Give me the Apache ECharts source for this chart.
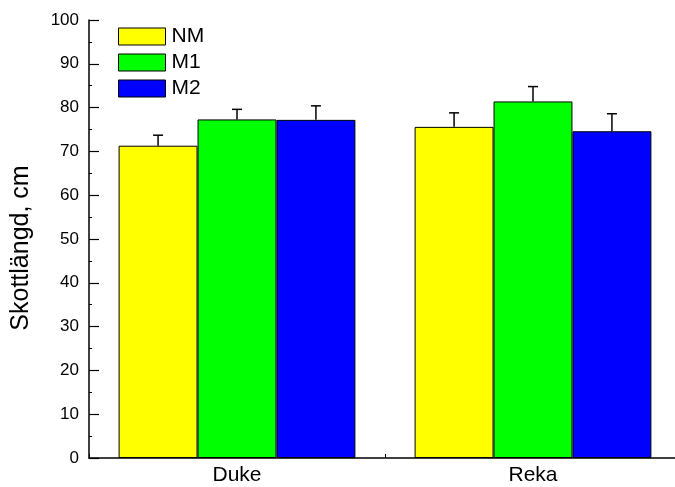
<!DOCTYPE html>
<html>
<head>
<meta charset="utf-8">
<script src="https://cdn.jsdelivr.net/npm/echarts@6/dist/echarts.min.js"></script>
<style>
  html, body { margin: 0; padding: 0; background: #fff; overflow: hidden; }
  #chart { width: 681px; height: 487px; }
</style>
</head>
<body>
<div id="chart"></div>
<script>
const categories = ['Duke', 'Reka']
const seriesNames = ['NM', 'M1', 'M2']
const nmValues = [71.3, 75.6]
const m1Values = [77.3, 81.4]
const m2Values = [77.2, 74.6]
const nmErrors = [2.4, 3.2]
const m1Errors = [2.3, 3.4]
const m2Errors = [3.2, 4.0]
const yTicks = [0, 100, 10] // min, max, interval

const colors = ['#ffff00', '#00ff00', '#0000ff']
const font = 'Liberation Sans, Arial, sans-serif'

const chart = echarts.init(document.getElementById('chart'))

// error bar drawn above each bar, shifted to that bar's slot in the group
function errorSeries(values, errors, slot) {
  return {
    type: 'custom',
    name: seriesNames[slot] + '_err',
    silent: true,
    z: 5,
    encode: { x: 0, y: 1 },
    data: values.map((v, i) => [i, v, errors[i]]),
    renderItem: function (params, api) {
      const band = api.size([1, 0])[0]
      const bw = band * 0.8 / 3
      const off = (slot - 1) * bw
      const base = api.coord([api.value(0), api.value(1)])
      const top = api.coord([api.value(0), api.value(1) + api.value(2)])
      const x = base[0] + off
      const style = { stroke: '#000', lineWidth: 1.5 }
      return {
        type: 'group',
        children: [
          { type: 'line', shape: { x1: x, y1: base[1], x2: x, y2: top[1] }, style: style },
          { type: 'line', shape: { x1: x - 5, y1: top[1], x2: x + 5, y2: top[1] }, style: style }
        ]
      }
    }
  }
}

function barSeries(name, values, color) {
  return {
    name: name,
    type: 'bar',
    data: values,
    barGap: '0%',
    barCategoryGap: '20%',
    itemStyle: { color: color, borderColor: '#000', borderWidth: 1 }
  }
}

const option = {
  backgroundColor: '#fff',
  animation: false,
  textStyle: { fontFamily: font },
  grid: { left: 89, right: 0, top: 20, bottom: 29 },
  legend: {
    data: seriesNames,
    orient: 'vertical',
    left: 118,
    top: 26,
    padding: 0,
    itemWidth: 47,
    itemHeight: 17,
    itemGap: 5,
    icon: 'rect',
    itemStyle: { borderColor: '#000', borderWidth: 1 },
    textStyle: { fontFamily: font, fontSize: 21, color: '#000', padding: [0, 0, 0, 1] }
  },
  xAxis: {
    type: 'category',
    data: categories,
    axisLine: { lineStyle: { color: '#000', width: 1.5 } },
    axisTick: { show: true, inside: true, length: 4, lineStyle: { color: '#000' } },
    axisLabel: { color: '#000', fontSize: 21, fontFamily: font, margin: 7 }
  },
  yAxis: {
    type: 'value',
    min: yTicks[0],
    max: yTicks[1],
    interval: yTicks[2],
    name: 'Skottlängd, cm',
    nameLocation: 'middle',
    nameGap: 55,
    nameTextStyle: { color: '#000', fontSize: 25, fontFamily: font, padding: [0, 18, 0, 0] },
    axisLine: { show: true, lineStyle: { color: '#000', width: 1.5 } },
    axisTick: { show: true, inside: true, length: 10, lineStyle: { color: '#000', width: 1.2 } },
    minorTick: { show: true, splitNumber: 2, length: 3, lineStyle: { color: '#000' } },
    splitLine: { show: false },
    axisLabel: { color: '#000', fontSize: 17, fontFamily: font, margin: 10 }
  },
  series: [
    barSeries(seriesNames[0], nmValues, colors[0]),
    barSeries(seriesNames[1], m1Values, colors[1]),
    barSeries(seriesNames[2], m2Values, colors[2]),
    errorSeries(nmValues, nmErrors, 0),
    errorSeries(m1Values, m1Errors, 1),
    errorSeries(m2Values, m2Errors, 2)
  ]
}

chart.setOption(option)
</script>
</body>
</html>
